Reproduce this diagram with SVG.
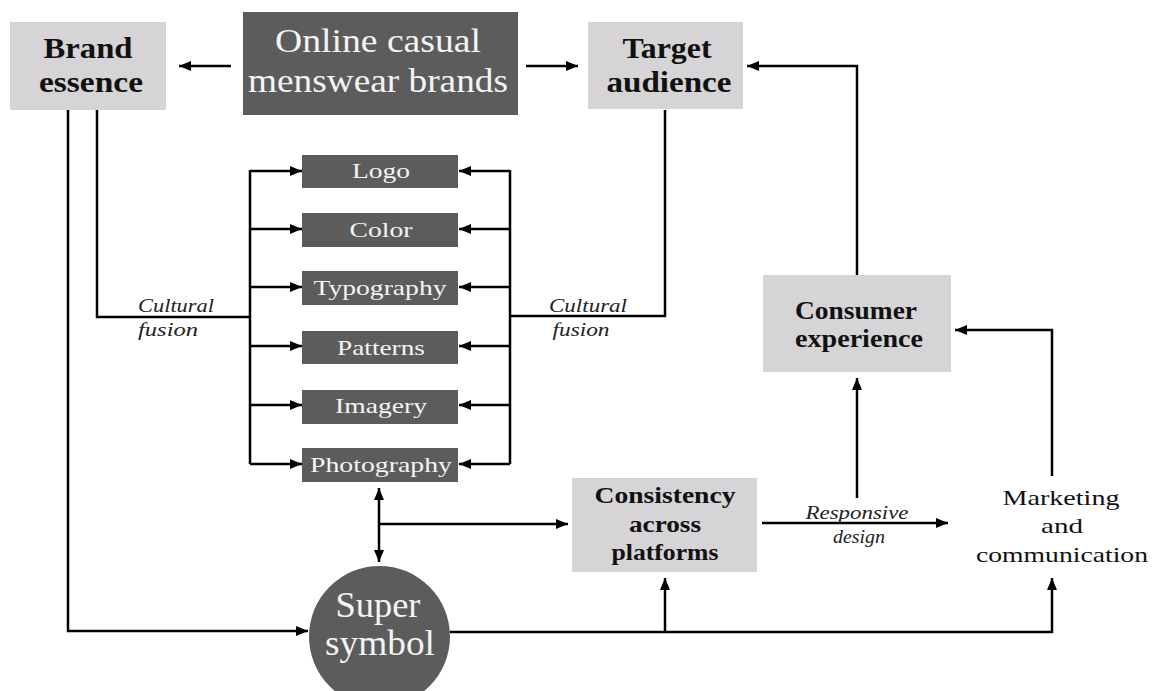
<svg xmlns="http://www.w3.org/2000/svg" width="1157" height="691" viewBox="0 0 1157 691" font-family="'Liberation Serif', serif">
<defs>
<marker id="ah" viewBox="0 0 12 10" markerWidth="12" markerHeight="10" refX="12" refY="5" orient="auto-start-reverse" markerUnits="userSpaceOnUse">
<path d="M0,0 L12,5 L0,10 z" fill="#000"/>
</marker>
<style>
.light{fill:#d6d4d6;}
.dark{fill:#5c5c5c;}
text{font-family:'Liberation Serif',serif;text-anchor:middle;}
.b{font-weight:bold;fill:#111;}
.w{fill:#f4f4f4;}
.it{font-style:italic;fill:#222;font-size:19px;}
.c{fill:none;stroke:#000;stroke-width:2.5;}
.a{marker-end:url(#ah);}
</style>
</defs>
<rect width="1157" height="691" fill="#fff"/>

<g id="connectors">
<path class="c a" d="M231,66 H179"/>
<path class="c a" d="M526,66 H578"/>
<path class="c a" d="M857,275 V66 H747"/>
<path class="c a" d="M1052,476 V330 H955"/>
<path class="c a" d="M857,498 V378"/>
<path class="c a" d="M762,523 H948"/>
<path class="c a" d="M68,110 V631 H308"/>
<path class="c" d="M97,110 V317 H250"/>
<path class="c" d="M250,170 V464"/>
<path class="c a" d="M250,171 H302"/>
<path class="c a" d="M250,229 H302"/>
<path class="c a" d="M250,287 H302"/>
<path class="c a" d="M250,346 H302"/>
<path class="c a" d="M250,405 H302"/>
<path class="c a" d="M250,464 H302"/>
<path class="c" d="M665,110 V316 H510"/>
<path class="c" d="M510,170 V464"/>
<path class="c a" d="M510,171 H459"/>
<path class="c a" d="M510,229 H459"/>
<path class="c a" d="M510,287 H459"/>
<path class="c a" d="M510,346 H459"/>
<path class="c a" d="M510,405 H459"/>
<path class="c a" d="M510,464 H459"/>
<path class="c" d="M379,488 V562" marker-start="url(#ah)" marker-end="url(#ah)"/>
<path class="c a" d="M379,524 H568"/>
<path class="c a" d="M450,632 H1052 V578"/>
<path class="c a" d="M665,632 V578"/>
<text class="it" x="176" y="312" textLength="76" lengthAdjust="spacingAndGlyphs">Cultural</text>
<text class="it" x="168" y="336" textLength="60" lengthAdjust="spacingAndGlyphs">fusion</text>
<text class="it" x="588" y="312" textLength="78" lengthAdjust="spacingAndGlyphs">Cultural</text>
<text class="it" x="581" y="336" textLength="57" lengthAdjust="spacingAndGlyphs">fusion</text>
<text class="it" x="857" y="519" textLength="103" lengthAdjust="spacingAndGlyphs">Responsive</text>
<text class="it" x="859" y="543" textLength="52" lengthAdjust="spacingAndGlyphs">design</text>
</g>

<g id="brand-essence">
<rect class="light" x="10" y="22" width="156" height="88"/>
<text class="b" x="88" y="58" font-size="29" textLength="89" lengthAdjust="spacingAndGlyphs">Brand</text>
<text class="b" x="91" y="92" font-size="29" textLength="104" lengthAdjust="spacingAndGlyphs">essence</text>
</g>

<g id="online-brands">
<rect class="dark" x="243" y="12" width="275" height="103"/>
<text class="w" x="378" y="52" font-size="34" textLength="206" lengthAdjust="spacingAndGlyphs">Online casual</text>
<text class="w" x="378" y="92" font-size="34" textLength="260" lengthAdjust="spacingAndGlyphs">menswear brands</text>
</g>

<g id="target-audience">
<rect class="light" x="588" y="22" width="155" height="87"/>
<text class="b" x="667" y="58" font-size="29" textLength="89" lengthAdjust="spacingAndGlyphs">Target</text>
<text class="b" x="669" y="92" font-size="29" textLength="125" lengthAdjust="spacingAndGlyphs">audience</text>
</g>

<g id="logo">
<rect class="dark" x="302" y="155" width="156" height="33"/>
<text class="w" x="381" y="178" font-size="22" textLength="58" lengthAdjust="spacingAndGlyphs">Logo</text>
</g>
<g id="color">
<rect class="dark" x="302" y="213" width="156" height="34"/>
<text class="w" x="381" y="237" font-size="22" textLength="63" lengthAdjust="spacingAndGlyphs">Color</text>
</g>
<g id="typography">
<rect class="dark" x="302" y="271" width="156" height="34"/>
<text class="w" x="380" y="295" font-size="22" textLength="133" lengthAdjust="spacingAndGlyphs">Typography</text>
</g>
<g id="patterns">
<rect class="dark" x="302" y="331" width="156" height="33"/>
<text class="w" x="381" y="355" font-size="22" textLength="88" lengthAdjust="spacingAndGlyphs">Patterns</text>
</g>
<g id="imagery">
<rect class="dark" x="302" y="390" width="156" height="34"/>
<text class="w" x="381" y="413" font-size="22" textLength="92" lengthAdjust="spacingAndGlyphs">Imagery</text>
</g>
<g id="photography">
<rect class="dark" x="302" y="448" width="156" height="34"/>
<text class="w" x="381" y="472" font-size="22" textLength="142" lengthAdjust="spacingAndGlyphs">Photography</text>
</g>

<g id="super-symbol">
<circle class="dark" cx="379.5" cy="636.5" r="70.5"/>
<text class="w" x="378" y="617" font-size="36" textLength="85" lengthAdjust="spacingAndGlyphs">Super</text>
<text class="w" x="380" y="655" font-size="36" textLength="110" lengthAdjust="spacingAndGlyphs">symbol</text>
</g>

<g id="consistency">
<rect class="light" x="572" y="478" width="185" height="94"/>
<text class="b" x="665" y="503" font-size="23" textLength="141" lengthAdjust="spacingAndGlyphs">Consistency</text>
<text class="b" x="665" y="532" font-size="23" textLength="72" lengthAdjust="spacingAndGlyphs">across</text>
<text class="b" x="665" y="560" font-size="23" textLength="107" lengthAdjust="spacingAndGlyphs">platforms</text>
</g>

<g id="consumer-experience">
<rect class="light" x="763" y="275" width="188" height="97"/>
<text class="b" x="856" y="319" font-size="25" textLength="122" lengthAdjust="spacingAndGlyphs">Consumer</text>
<text class="b" x="859" y="347" font-size="25" textLength="128" lengthAdjust="spacingAndGlyphs">experience</text>
</g>

<g id="marketing">
<text x="1061" y="505" font-size="21" fill="#111" textLength="117" lengthAdjust="spacingAndGlyphs">Marketing</text>
<text x="1062" y="533" font-size="21" fill="#111" textLength="42" lengthAdjust="spacingAndGlyphs">and</text>
<text x="1062" y="562" font-size="21" fill="#111" textLength="172" lengthAdjust="spacingAndGlyphs">communication</text>
</g>
</svg>
